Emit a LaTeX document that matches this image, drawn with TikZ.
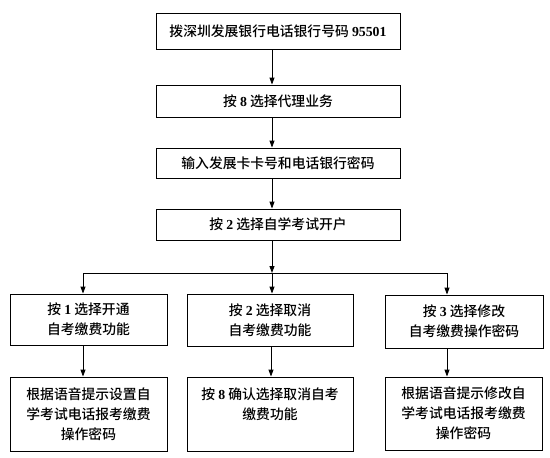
\documentclass[tikz,border=0pt]{standalone}
\usepackage{fontspec}
\setmainfont{Liberation Serif}
\newfontfamily\cjk{Noto Sans CJK SC}[UprightFont={* Medium}]
\usetikzlibrary{arrows.meta}
\newcommand\dg[1]{{\rmfamily\bfseries #1}}
\begin{document}
\begin{tikzpicture}[x=1pt,y=-1pt,
 box/.style={draw=black, line width=0.9pt, inner sep=0pt, align=center, font=\cjk\fontsize{13.8}{20}\selectfont},
 arr/.style={-{Triangle[length=7pt,width=5pt]}, line width=0.9pt}]
\useasboundingbox (0,0) rectangle (550,458);
\node[box, minimum width=244, minimum height=36] (b1) at (278,31) {拨深圳发展银行电话银行号码 \dg{95501}};
\node[box, minimum width=244, minimum height=32] (b2) at (278,101) {按 \dg{8} 选择代理业务};
\node[box, minimum width=244, minimum height=30] (b3) at (278,163) {输入发展卡卡号和电话银行密码};
\node[box, minimum width=244, minimum height=31] (b4) at (278,224.5) {按 \dg{2} 选择自学考试开户};
\node[box, minimum width=157, minimum height=51] (u1) at (88.5,319.5) {按 \dg{1} 选择开通\\自考缴费功能};
\node[box, minimum width=166, minimum height=52] (u2) at (270,320) {按 \dg{2} 选择取消\\自考缴费功能};
\node[box, minimum width=158, minimum height=53] (u3) at (464,321.5) {按 \dg{3} 选择修改\\自考缴费操作密码};
\node[box, minimum width=157, minimum height=74] (l1) at (88.5,414) {根据语音提示设置自\\学考试电话报考缴费\\操作密码};
\node[box, minimum width=166, minimum height=74] (l2) at (270,414) {按 \dg{8} 确认选择取消自考\\缴费功能\\~};
\node[box, minimum width=157, minimum height=73] (l3) at (463.5,413.5) {根据语音提示修改自\\学考试电话报考缴费\\操作密码};
\coordinate (ax) at (272,0);
\coordinate (j) at (272,273);
\coordinate (jl) at (83,273);
\coordinate (jr) at (447,273);
\coordinate (mx) at (271,0);
\draw[arr] (b1.south -| ax) -- (b2.north -| ax);
\draw[arr] (b2.south -| ax) -- (b3.north -| ax);
\draw[arr] (b3.south -| ax) -- (b4.north -| ax);
\draw[arr] (b4.south -| ax) -- (j);
\draw[line width=0.9pt] (jl) -- (jr);
\draw[arr] (jl) -- (u1.north -| jl);
\draw[arr] (j) -- (u2.north -| j);
\draw[arr] (jr) -- (u3.north -| jr);
\draw[arr] (u1.south -| jl) -- (l1.north -| jl);
\draw[arr] (u2.south -| mx) -- (l2.north -| mx);
\draw[arr] (u3.south -| jr) -- (l3.north -| jr);
\end{tikzpicture}
\end{document}
